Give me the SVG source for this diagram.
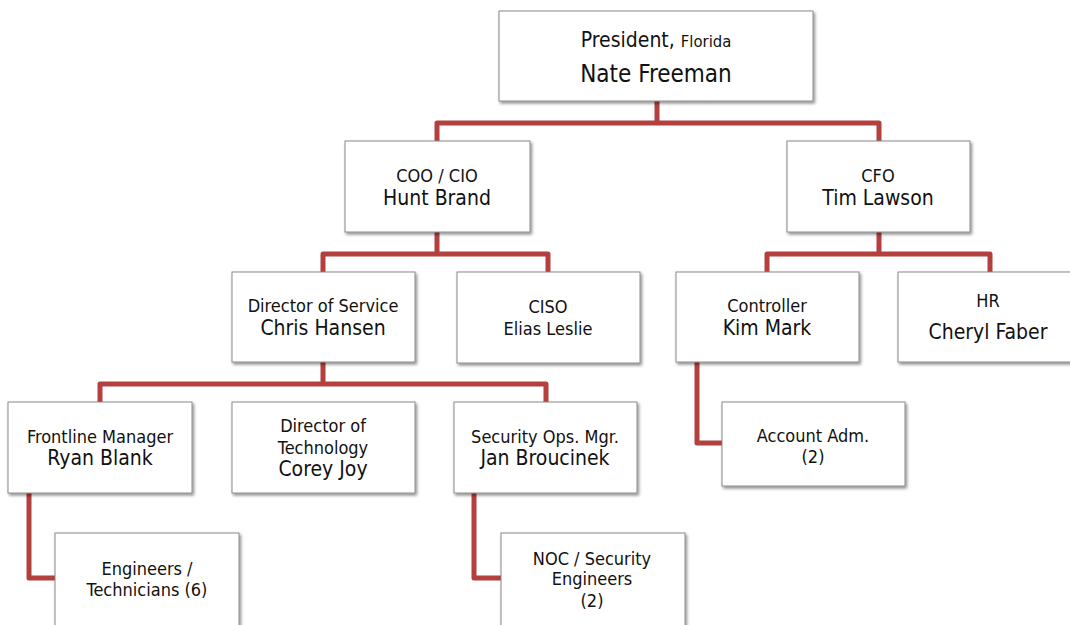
<svg xmlns="http://www.w3.org/2000/svg" width="1070" height="625" viewBox="0 0 1070 625">
<defs>
<filter id="sh" x="-10%" y="-10%" width="125%" height="130%">
<feDropShadow dx="1.5" dy="2" stdDeviation="1.8" flood-color="#000" flood-opacity="0.45"/>
</filter>
<style>
.box{fill:#fff;stroke:#8a8a8a;stroke-width:1;filter:url(#sh)}
.t{font-family:"DejaVu Sans Condensed","DejaVu Sans",sans-serif;font-size:18px;fill:#111;text-anchor:middle}
.n{font-size:21px}
.s{font-size:16.5px}
.p{font-size:21px}
.pn{font-size:24px}
.c{fill:none;stroke:#b3403e;stroke-width:5;stroke-linejoin:round}
</style>
</defs>
<rect width="1070" height="625" fill="#fff"/>
<g id="connectors">
<path class="c" d="M657 101V123M437 141V123H879V141"/>
<path class="c" d="M437 232V254M323 272V254H548V272"/>
<path class="c" d="M879 232V254M767 272V254H990V272"/>
<path class="c" d="M323 362V384M100 402V384H546V402"/>
<path class="c" d="M29 493V578H55"/>
<path class="c" d="M474 493V578H501"/>
<path class="c" d="M697 362V443H722"/>
</g>
<g id="president"><rect class="box" x="499" y="11" width="314" height="90"/>
<text class="t p" x="656" y="47">President, <tspan class="s">Florida</tspan></text>
<text class="t pn" x="656" y="82">Nate Freeman</text></g>
<g id="coo"><rect class="box" x="345" y="141" width="185" height="91"/>
<text class="t" x="437" y="182">COO / CIO</text>
<text class="t n" x="437" y="205">Hunt Brand</text></g>
<g id="cfo"><rect class="box" x="787" y="141" width="183" height="91"/>
<text class="t" x="878" y="182">CFO</text>
<text class="t n" x="878" y="205">Tim Lawson</text></g>
<g id="dir-service"><rect class="box" x="232" y="272" width="183" height="90"/>
<text class="t" x="323" y="312">Director of Service</text>
<text class="t n" x="323" y="335">Chris Hansen</text></g>
<g id="ciso"><rect class="box" x="457" y="272" width="183" height="91"/>
<text class="t" x="548" y="313">CISO</text>
<text class="t" x="548" y="335">Elias Leslie</text></g>
<g id="controller"><rect class="box" x="676" y="272" width="183" height="90"/>
<text class="t" x="767" y="312">Controller</text>
<text class="t n" x="767" y="335">Kim Mark</text></g>
<g id="hr"><rect class="box" x="898" y="272" width="178" height="90"/>
<text class="t" x="988" y="307">HR</text>
<text class="t n" x="988" y="339">Cheryl Faber</text></g>
<g id="frontline"><rect class="box" x="8" y="402" width="184" height="91"/>
<text class="t" x="100" y="443">Frontline Manager</text>
<text class="t n" x="100" y="465">Ryan Blank</text></g>
<g id="dir-tech"><rect class="box" x="232" y="402" width="183" height="91"/>
<text class="t" x="323" y="432">Director of</text>
<text class="t" x="323" y="454">Technology</text>
<text class="t n" x="323" y="476">Corey Joy</text></g>
<g id="secops"><rect class="box" x="454" y="402" width="183" height="91"/>
<text class="t" x="545" y="443">Security Ops. Mgr.</text>
<text class="t n" x="545" y="465">Jan Broucinek</text></g>
<g id="account"><rect class="box" x="722" y="402" width="183" height="84"/>
<text class="t" x="813" y="442">Account Adm.</text>
<text class="t" x="813" y="463">(2)</text></g>
<g id="engineers"><rect class="box" x="55" y="533" width="184" height="95"/>
<text class="t" x="147" y="575">Engineers /</text>
<text class="t" x="147" y="596">Technicians (6)</text></g>
<g id="noc"><rect class="box" x="501" y="533" width="184" height="95"/>
<text class="t" x="592" y="565">NOC / Security</text>
<text class="t" x="592" y="585">Engineers</text>
<text class="t" x="592" y="607">(2)</text></g>
</svg>
